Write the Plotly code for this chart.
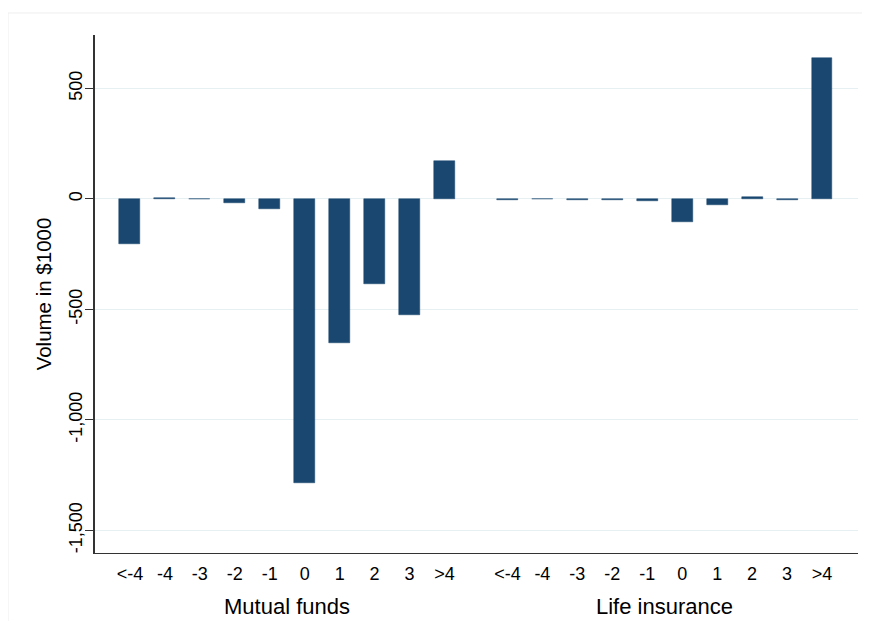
import plotly.graph_objects as go

categories = ["<-4", "-4", "-3", "-2", "-1", "0", "1", "2", "3", ">4"]
groups = ["Mutual funds", "Life insurance"]
mutual_funds = [-204, 5, 0, -17, -47, -1287, -652, -385, -525, 172]
life_insurance = [-4, 0, -3, -3, -8, -104, -25, 7, -5, 640]
y_tickvals = [-1500, -1000, -500, 0, 500]
y_ticktext = ["-1,500", "-1,000", "-500", "0", "500"]

GAP = 1.8  # slot offset between groups
BAR = "#1a476f"
FONT = "Liberation Sans, Arial, Helvetica, sans-serif"

n = len(categories)
x_mf = [i + 1 for i in range(n)]
x_li = [i + n + GAP for i in range(n)]

fig = go.Figure()
for xs, ys in ((x_mf, mutual_funds), (x_li, life_insurance)):
    fig.add_trace(go.Bar(
        x=xs, y=ys, width=0.6,
        marker=dict(color=BAR, line=dict(color=BAR, width=0.5)),
        showlegend=False,
    ))

x_max = n + GAP + n - 1 + 1.03

fig.update_layout(
    width=862, height=613,
    margin=dict(l=87, r=12, t=27, b=68),
    paper_bgcolor="white", plot_bgcolor="white",
    font=dict(family=FONT, color="black"),
    bargap=0,
    xaxis=dict(
        range=[0, x_max],
        tickvals=x_mf + x_li,
        ticktext=categories + categories,
        tickfont=dict(size=18),
        ticklabelstandoff=4,
        showgrid=False, zeroline=False,
        showline=True, linecolor="#333333", linewidth=1.2,
        ticks="",
    ),
    yaxis=dict(
        range=[-1602, 742],
        tickvals=y_tickvals,
        ticktext=y_ticktext,
        tickangle=-90,
        tickfont=dict(size=18),
        ticklabelstandoff=-4,
        ticks="outside", ticklen=8, tickcolor="#333333", tickwidth=1.2,
        showgrid=True, gridcolor="#e6eff2", gridwidth=1,
        zeroline=False,
        showline=True, linecolor="#333333", linewidth=1.5,
        title=dict(text="Volume in $1000", font=dict(size=20.5), standoff=9),
    ),
)

centers = [sum(x_mf) / n, sum(x_li) / n]
for name, cx in zip(groups, centers):
    fig.add_annotation(
        x=cx, xref="x", y=-0.104, yref="paper",
        text=name, showarrow=False, yanchor="middle",
        font=dict(size=22, family=FONT),
    )

fig.add_shape(
    type="rect", xref="paper", yref="paper",
    x0=-0.114, x1=1.05, y0=-0.2, y1=1.0425,
    line=dict(color="#eeeeee", width=1), layer="below",
)

fig.write_html("out.html")
